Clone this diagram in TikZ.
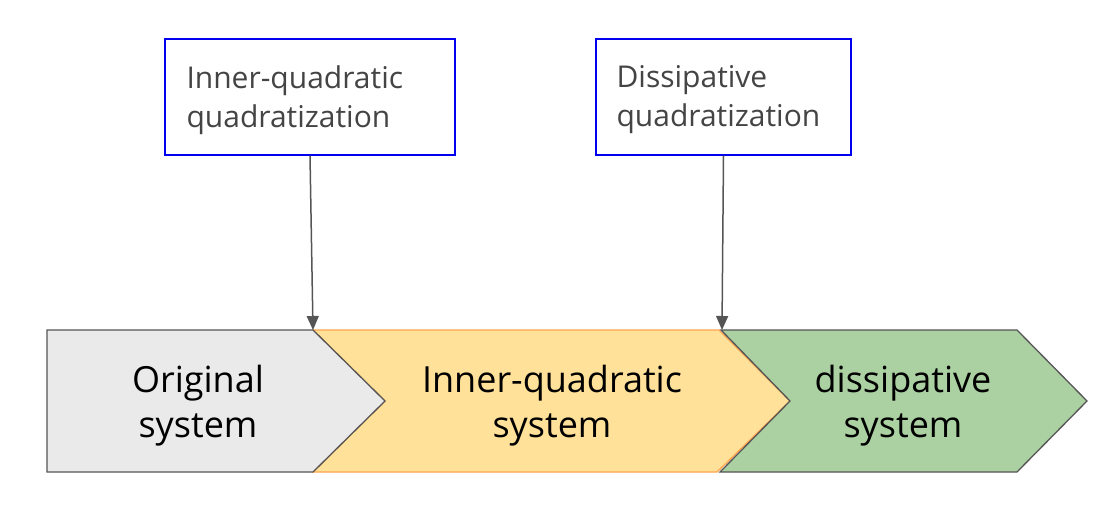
\documentclass[tikz,border=0pt]{standalone}
\usepackage{fontspec}
\setmainfont{Open Sans}
\definecolor{greyfill}{HTML}{EAEAEA}
\definecolor{orangefill}{HTML}{FFE199}
\definecolor{orangeline}{HTML}{FFA64D}
\definecolor{greenfill}{HTML}{ABD1A2}
\definecolor{darkline}{HTML}{555555}
\definecolor{boxblue}{HTML}{0000EE}
\definecolor{boxtext}{HTML}{444444}
\tikzset{
  chev/.style={line width=1.3pt, line join=miter},
  topbox/.style={draw=boxblue, line width=1.2pt, fill=white, minimum width=290pt, minimum height=116pt, inner sep=0pt},
  boxlabel/.style={text=boxtext, font=\fontsize{30}{39}\selectfont, align=left, anchor=west},
  biglabel/.style={text=black, font=\fontsize{36}{45}\selectfont, align=center},
  conn/.style={draw=darkline, line width=1.5pt, -{Triangle[length=14pt,width=12pt]}}
}
\usetikzlibrary{arrows.meta}
\begin{document}
\begin{tikzpicture}[x=1pt,y=1pt]
\useasboundingbox (0,0) rectangle (1106,507);
% orange chevron
\draw[chev, draw=orangeline, fill=orangefill] (313,177) -- (719,177) -- (790,106) -- (717,35) -- (313,35) -- (385,106) -- cycle;
% grey chevron
\draw[chev, draw=darkline, fill=greyfill] (47,177) -- (313,177) -- (385,106) -- (313,35) -- (47,35) -- cycle;
% green chevron
\draw[chev, draw=darkline, fill=greenfill] (721,177) -- (1017,177) -- (1087,106) -- (1017,35) -- (720,35) -- (790,106) -- cycle;
\node[biglabel] (orig) at (198,101) {Original\\system};
\node[biglabel] (inner) at (552,101) {Inner-quadratic\\system};
\node[biglabel] (diss) at (903,101) {dissipative\\system};
% top boxes
\node[topbox] (b1) at (310,410) {};
\node[topbox, minimum width=255pt] (b2) at (723.5,410) {};
\node[boxlabel] (l1) at (183,407) {Inner-quadratic\\quadratization};
\node[boxlabel] (l2) at (613,407) {Dissipative\\quadratization};
\coordinate (t1) at (313,177);
\coordinate (t2) at (722,177);
\draw[conn] (b1.south) -- (t1);
\draw[conn] (b2.south) -- (t2);
\end{tikzpicture}
\end{document}
